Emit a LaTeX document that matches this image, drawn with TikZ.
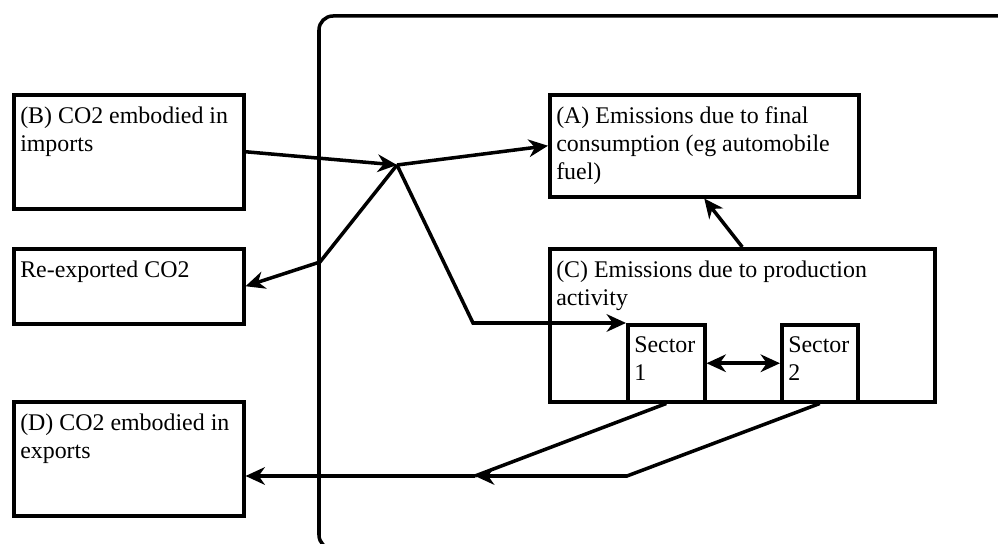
\documentclass[tikz,border=0pt]{standalone}
\usepackage{fontspec}
\setmainfont{Liberation Serif}
\usetikzlibrary{arrows.meta}
\tikzset{
  box/.style={draw,line width=2pt,inner sep=0pt,anchor=north west},
  boxtext/.style={anchor=north west,align=left,inner xsep=4.5pt,inner ysep=7.5pt,font=\fontsize{13.6}{16}\selectfont},
  tip/.tip={Stealth[length=11pt,width=10pt,inset=3.5pt]},
  flow/.style={line width=2pt,-tip},
  plain/.style={line width=2pt}
}
\begin{document}
\begin{tikzpicture}[x=0.2mm,y=-0.2mm]
\useasboundingbox (0,0) rectangle (998,544);

%Draw the region boundary
\draw[line width=2pt,rounded corners=2.8mm] (319,16) rectangle (1040,549);

%Draw the boxes - name/left/top/width/height
\foreach \n/\x/\y/\w/\h in {B/12/93/230/114,R/12/247/230/75,D/12/400/230/114,A/548/93/309/102,C/548/247/385/153,S1/626/323/77/77,S2/780/323/76/77}
  \node[box,minimum width=\w*0.2mm,minimum height=\h*0.2mm] (\n) at (\x,\y) {};

%Text of the boxes
\node[boxtext] (Bt) at (B.north west) {(B) CO2 embodied in\\imports};
\node[boxtext] (Rt) at (R.north west) {Re-exported CO2};
\node[boxtext] (Dt) at (D.north west) {(D) CO2 embodied in\\exports};
\node[boxtext] (At) at (A.north west) {(A) Emissions due to final\\consumption (eg automobile\\fuel)};
\node[boxtext] (Ct) at (C.north west) {(C) Emissions due to production\\activity};
\node[boxtext] (S1t) at (S1.north west) {Sector\\1};
\node[boxtext] (S2t) at (S2.north west) {Sector\\2};

%Junctions and bends
\coordinate (J) at (397,165);
\coordinate (Rb) at (320,262);
\coordinate (Sb) at (473,323);
\coordinate (Db) at (627,476);
\coordinate (M) at (475,476);

%Arrows
\draw[flow] (B.east) -- (J);
\draw[flow] (J) -- (A.west);
\draw[flow] (J) -- (Rb) -- (R.east);
\draw[flow] (J) -- (Sb) -- (S1.north west);
\draw[flow] (C.north) -- (A.south);
\draw[flow,tip-tip] (S1.east) -- (S2.west);
\draw[flow] (S2.south) -- (Db) -- (M);
\draw[plain] (S1.south) -- (M);
\draw[flow] (M) -- (D.east |- M);

\end{tikzpicture}
\end{document}
